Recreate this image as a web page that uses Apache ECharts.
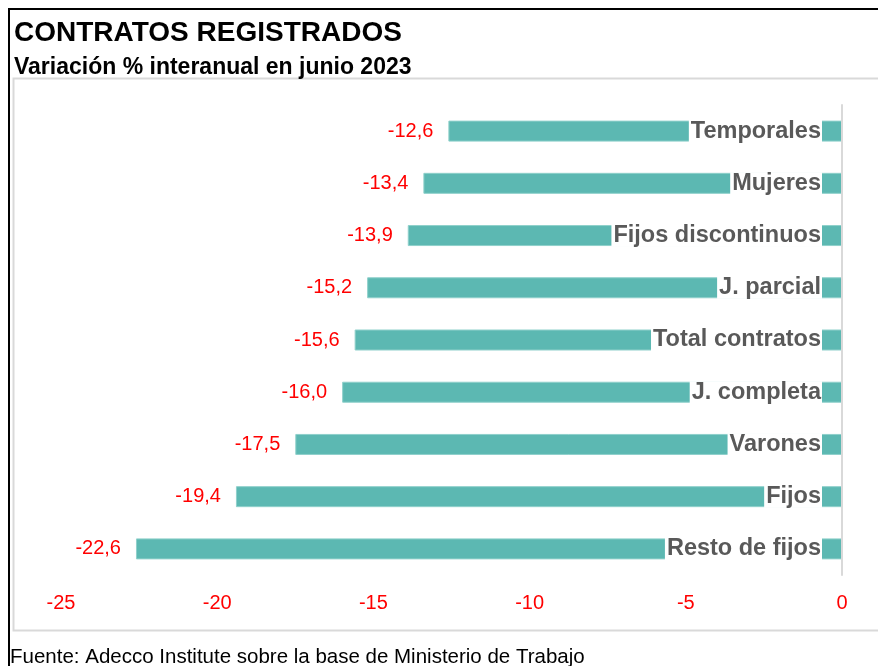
<!DOCTYPE html>
<html>
<head>
<meta charset="utf-8">
<script src="https://cdn.jsdelivr.net/npm/echarts@6/dist/echarts.min.js"></script>
<style>
  html, body { margin: 0; padding: 0; background: #fff; }
  #main { width: 878px; height: 666px; }
</style>
</head>
<body>
<div id="main"></div>
<script>
var categories = ['Temporales', 'Mujeres', 'Fijos discontinuos', 'J. parcial', 'Total contratos',
                  'J. completa', 'Varones', 'Fijos', 'Resto de fijos'];
var values = [-12.6, -13.4, -13.9, -15.2, -15.6, -16.0, -17.5, -19.4, -22.6];
var tickLabels = ['-25', '-20', '-15', '-10', '-5', '0'];

var myChart = echarts.init(document.getElementById('main'));

var option = {
  backgroundColor: '#fff',
  animation: false,
  graphic: [
    { type: 'rect', shape: { x: 9, y: 9, width: 900, height: 700 },
      style: { fill: 'none', stroke: '#000', lineWidth: 2 } },
    { type: 'rect', shape: { x: 13.5, y: 78.5, width: 900, height: 552 },
      style: { fill: 'none', stroke: '#d9d9d9', lineWidth: 2 } },
    { type: 'text', left: 14, top: 19,
      style: { text: 'CONTRATOS REGISTRADOS', fill: '#000', font: 'bold 28px "Liberation Sans", Arial, sans-serif' } },
    { type: 'text', left: 14, top: 56,
      style: { text: 'Variación % interanual en junio 2023', fill: '#000', font: 'bold 23px "Liberation Sans", Arial, sans-serif' } },
    { type: 'text', left: 10, top: 647,
      style: { text: 'Fuente: Adecco Institute sobre la base de Ministerio de Trabajo', fill: '#000', font: '20.5px "Liberation Sans", Arial, sans-serif' } }
  ],
  grid: { left: 61, right: 36, top: 105, bottom: 91 },
  xAxis: {
    type: 'value',
    min: -25,
    max: 0,
    interval: 5,
    splitLine: { show: false },
    axisLine: { show: false },
    axisTick: { show: false },
    axisLabel: {
      margin: 18,
      fontSize: 20,
      fontFamily: '"Liberation Sans", Arial, sans-serif',
      formatter: function (v) { return tickLabels[Math.round((v + 25) / 5)]; },
      color: function (v) { return v === 0 ? '#595959' : '#ff0000'; }
    }
  },
  yAxis: {
    type: 'category',
    data: categories,
    inverse: true,
    position: 'right',
    axisLine: { show: true, lineStyle: { color: '#d9d9d9', width: 2 } },
    axisTick: { show: false },
    axisLabel: {
      inside: true,
      margin: 20,
      color: '#595959',
      fontWeight: 'bold',
      fontSize: 23.5,
      fontFamily: '"Liberation Sans", Arial, sans-serif',
      backgroundColor: '#fff',
      padding: [0, 1, 0, 2],
      lineHeight: 22
    },
    z: 10
  },
  series: [{
    type: 'bar',
    data: values,
    barWidth: 21,
    itemStyle: { color: '#5cb8b2', borderColor: '#8fd0cb', borderWidth: 1 },
    label: {
      show: true,
      position: 'left',
      distance: 15,
      color: '#ff0000',
      fontSize: 20,
      fontFamily: '"Liberation Sans", Arial, sans-serif',
      formatter: function (p) { return p.value.toFixed(1).replace('.', ','); }
    }
  }]
};

myChart.setOption(option);
</script>
</body>
</html>
